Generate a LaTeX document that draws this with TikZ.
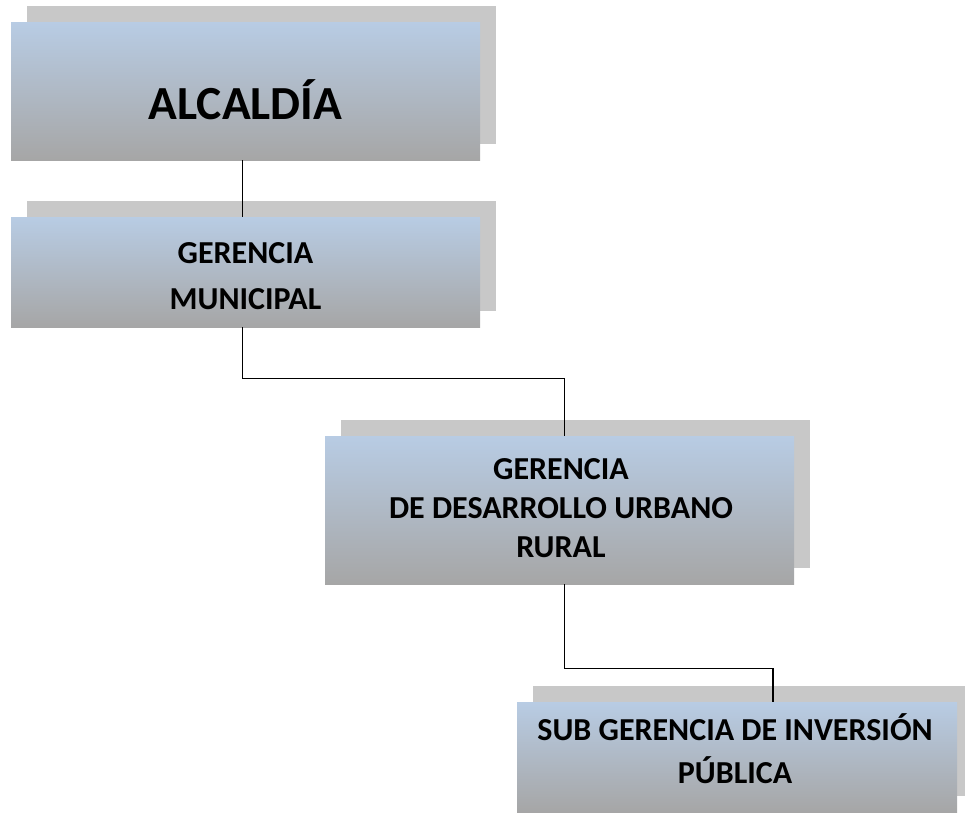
\documentclass[tikz,border=0pt]{standalone}
\usepackage{fontspec}
\setmainfont{Carlito}
\usetikzlibrary{calc}
\definecolor{topblue}{RGB}{184,204,228}
\definecolor{botgray}{RGB}{166,166,166}
\definecolor{shadowgray}{RGB}{200,200,200}
\tikzset{
  orgbox/.style={rectangle, inner sep=0pt, top color=topblue, bottom color=botgray, draw=none},
  shadowbox/.style={rectangle, inner sep=0pt, fill=shadowgray, draw=none},
  label/.style={align=center, inner sep=0pt},
  conn/.style={draw=black, line width=1.3pt},
}
\begin{document}
\begin{tikzpicture}[x=1pt,y=-1pt]
\useasboundingbox (0,0) rectangle (965,812);
% shadows
\node[shadowbox, minimum width=469pt, minimum height=138pt] (s1) at (261.5,75) {};
\node[shadowbox, minimum width=469pt, minimum height=110pt] (s2) at (261.5,256) {};
\node[shadowbox, minimum width=469pt, minimum height=148pt] (s3) at (575.5,494) {};
\node[shadowbox, minimum width=440pt, minimum height=110pt] (s4) at (753,741) {};
% boxes
\node[orgbox, minimum width=469pt, minimum height=138pt] (b1) at (245.5,91) {};
\node[orgbox, minimum width=469pt, minimum height=110pt] (b2) at (245.5,272) {};
\node[orgbox, minimum width=469pt, minimum height=148pt] (b3) at (559.5,510) {};
\node[orgbox, minimum width=440pt, minimum height=110pt] (b4) at (737,757) {};
% texts
\node[label, font=\bfseries\fontsize{47.5}{56}\selectfont] (t1) at (245.5,100) {ALCALDÍA};
\node[label, font=\bfseries\fontsize{32}{46}\selectfont] (t2) at (245.5,276) {GERENCIA\\MUNICIPAL};
\node[label, font=\bfseries\fontsize{32}{39}\selectfont] (t3) at (561,508) {GERENCIA\\DE DESARROLLO URBANO\\RURAL};
\node[label, font=\bfseries\fontsize{32}{43}\selectfont] (t4) at (735,749) {SUB GERENCIA DE INVERSIÓN\\PÚBLICA};
% connectors
\draw[conn] ([xshift=-3pt]b1.south) -- ([xshift=-3pt]b2.north);
\draw[conn] ([xshift=-3pt]b2.south) -- ++(0,51) -| ([xshift=5pt]b3.north);
\draw[conn] ([xshift=5pt]b3.south) -- ++(0,84) -| ([xshift=36pt]b4.north);
\end{tikzpicture}
\end{document}
